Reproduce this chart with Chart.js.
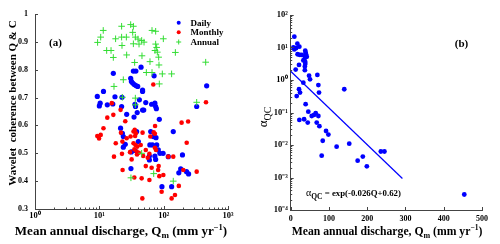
<!DOCTYPE html>
<html>
<head>
<meta charset="utf-8">
<script src="https://cdn.jsdelivr.net/npm/chart.js@4.4.1/dist/chart.umd.min.js"></script>
<style>
html,body{margin:0;padding:0;background:#fff;}
#wrap{position:relative;width:500px;height:244px;overflow:hidden;}
canvas{position:absolute;top:0;}
</style>
</head>
<body>
<div id="wrap">
<canvas id="ca" width="250" height="244" style="left:0"></canvas>
<canvas id="cb" width="250" height="244" style="left:250px"></canvas>
</div>
<script>
// ---------- Panel (a): wavelet coherence vs mean annual discharge ----------
const dailyQ = [9.3,10.3,10.0,11.6,13.3,16.2,16.5,17.5,22.5,22.2,26.6,35.8,36.5,41.9,47,52.7,47,49,38.8,34.6,65,73,75,77,85.6,21.4,22.8,23.6,23.6,25.3,38,40.4,35.8,31.4,62.9,69,76,61,67,78,82.5,87.5,98,73,75,60,60,118,141,196,172,227,244,31,94,133,184,326,466,44.5,33.8,37,30.7,31.5,33,35,37,39.5,47,71];
const dailyCoh = [.704,.680,.670,.722,.674,.677,.787,.703,.701,.668,.640,.676,.668,.692,.722,.682,.655,.655,.646,.630,.676,.680,.668,.660,.622,.590,.572,.560,.522,.532,.578,.542,.510,.505,.578,.560,.556,.530,.530,.530,.512,.500,.500,.490,.478,.490,.476,.488,.578,.494,.430,.434,.426,.445,.380,.380,.444,.668,.742,.809,.795,.795,.769,.758,.752,.747,.743,.740,.727,.778];
const monthlyQ = [9.3,9.9,10.5,11.6,13.3,15.6,16.5,21.4,18,16.9,23,21.7,22.8,22.5,25.3,26.6,30.6,34,35.5,37,36,34,36.5,39,41,38,35,38.5,31.8,35,45.5,46.6,47,52.7,48,52.7,60,65,73.5,70,73,73,76,83.6,82,85.6,98.8,93,118,141,172,133,150,190,240,228,202,326,455,69,56.6,44,62,30,60];
const monthlyCoh = [.562,.553,.566,.590,.628,.680,.638,.656,.536,.488,.440,.574,.542,.498,.615,.554,.560,.578,.584,.572,.562,.536,.530,.524,.502,.506,.514,.496,.478,.413,.410,.338,.574,.512,.490,.454,.404,.448,.598,.575,.570,.520,.512,.454,.440,.418,.422,.362,.488,.488,.383,.338,.350,.610,.614,.538,.440,.434,.683,.747,.484,.530,.560,.504,.498];
const annualQ = [11.5,10.5,9.4,13.0,15.2,16.5,17.9,22.2,22.2,26.3,22.5,26.6,30.7,33.8,33,36.3,39.9,33.8,41.4,45.5,49.5,46,35.4,65.9,75.1,98.8,75.1,77.8,73.3,79.7,83.6,61.3,84.6,53.8,65.9,95.3,133,152,85.6,23.6,16.9,450,326,22.8,36.3,36.3,45.5,31,70,141];
const annualCoh = [.941,.917,.898,.869,.869,.844,.911,.956,.917,.917,.887,.853,.962,.956,.934,.917,.910,.893,.892,.905,.899,.850,.826,.941,.938,.911,.892,.880,.869,.863,.845,.829,.817,.790,.790,.785,.785,.862,.749,.764,.740,.827,.683,.701,.698,.674,.500,.412,.427,.400];
const seriesNamesA = ['Daily','Monthly','Annual'];
const cohTicks = [0.3,0.4,0.5,0.6,0.7,0.8,0.9,1];
const cohTickLabels = ['0.3','0.4','0.5','0.6','0.7','0.8','0.9','1'];
const qLogTicks = [1,10,100,1000];
const qLogTickLabels = ['10\u2070','10\u00B9','10\u00B2','10\u00B3'];

// ---------- Panel (b): alpha_QC vs mean annual discharge ----------
const alphaQ = [9.5,17.4,7,9.5,14,22.6,18,24,29,38,39,40,38,36,38,38,37,37,42,33,21.7,13,48,50.5,69.7,72.3,74,33,21.7,24.4,15.7,140,39,22.6,35,46,44.5,55,61,65.4,68,72.3,75,92.4,98.5,83.7,81,120,153,175,188.5,199,235.6,245,453.7];
const alphaQC = [21.5,13.1,10,8.7,9.5,10.6,6.2,5.9,5.9,8.0,6.9,6.2,5.2,4.4,3.6,3.1,2.6,2.0,5.2,4.0,2.9,2.1,1.36,1.05,1.43,0.70,0.41,0.83,0.52,0.41,0.32,0.52,0.18,0.059,0.062,0.106,0.049,0.078,0.084,0.095,0.049,0.078,0.038,0.027,0.021,0.0135,0.0047,0.0089,0.011,0.0033,0.0044,0.0022,0.0063,0.0063,0.0003];
const fitQ = [0, 292];
const fitAlpha = [1.86, 0.00093];
const qTicksB = [0,100,200,300,400,500];
const alphaTicks = [1e-4,1e-3,1e-2,1e-1,1,10,100];
const alphaTickLabels = ['10\u207B\u2074','10\u207B\u00B3','10\u207B\u00B2','10\u207B\u00B9','10\u2070','10\u00B9','10\u00B2'];

const SERIF = '"Liberation Serif","Times New Roman",serif';
const AXIS = '#444';

function pts(xs, ys){ return xs.map((x,i)=>({x:x, y:ys[i]})); }

function drawRich(ctx, segs, x, y, rot, align){
  ctx.save();
  ctx.translate(x, y);
  ctx.rotate(rot || 0);
  ctx.fillStyle = '#000';
  ctx.textBaseline = 'alphabetic';
  let total = 0;
  const ws = segs.map(s => { ctx.font = (s.w||'bold') + ' ' + s.s + 'px ' + SERIF; const w = ctx.measureText(s.t).width; total += w; return w; });
  const base = segs[0].s * 0.35;
  let cx = align === 'left' ? 0 : -total/2;
  segs.forEach((s,i) => {
    ctx.font = (s.w||'bold') + ' ' + s.s + 'px ' + SERIF;
    ctx.fillText(s.t, cx, base + (s.dy||0));
    cx += ws[i];
  });
  ctx.restore();
}

function logMinor(min, max){
  const out = [];
  for (let e = Math.floor(Math.log10(min)); e < Math.ceil(Math.log10(max)); e++){
    for (let k = 2; k <= 9; k++){ const v = k*Math.pow(10,e); if (v > min && v < max) out.push(v); }
  }
  return out;
}

const inTicks = {
  id: 'inTicks',
  afterDatasetsDraw(chart, args, opts){
    const ctx = chart.ctx, a = chart.chartArea;
    ctx.save();
    ctx.strokeStyle = AXIS; ctx.lineWidth = 1;
    const xs = chart.scales.x, ys = chart.scales.y;
    ctx.beginPath();
    (opts.xMajor||[]).forEach(v => { const p = Math.round(xs.getPixelForValue(v))+0.5; ctx.moveTo(p, a.bottom); ctx.lineTo(p, a.bottom-3); });
    (opts.xMinor||[]).forEach(v => { const p = Math.round(xs.getPixelForValue(v))+0.5; ctx.moveTo(p, a.bottom); ctx.lineTo(p, a.bottom-1.5); });
    (opts.yMajor||[]).forEach(v => { const p = Math.round(ys.getPixelForValue(v))+0.5; ctx.moveTo(a.left, p); ctx.lineTo(a.left+3, p); });
    (opts.yMinor||[]).forEach(v => { const p = Math.round(ys.getPixelForValue(v))+0.5; ctx.moveTo(a.left, p); ctx.lineTo(a.left+1.5, p); });
    ctx.stroke();
    ctx.restore();
  }
};

const textLayer = {
  id: 'textLayer',
  afterDraw(chart, args, opts){ if (opts.draw) opts.draw(chart, chart.ctx); }
};

// ---------- Chart (a) ----------
new Chart(document.getElementById('ca'), {
  type: 'scatter',
  data: { datasets: [
    { label: seriesNamesA[0], data: pts(dailyQ, dailyCoh), pointStyle:'circle', pointRadius:2.6, backgroundColor:'#0000ff', borderColor:'#0000ff', borderWidth:0, order:3 },
    { label: seriesNamesA[1], data: pts(monthlyQ, monthlyCoh), pointStyle:'circle', pointRadius:2.3, backgroundColor:'#ff0000', borderColor:'#ff0000', borderWidth:0, order:2 },
    { label: seriesNamesA[2], data: pts(annualQ, annualCoh), pointStyle:'cross', pointRadius:3.3, backgroundColor:'#33dd33', borderColor:'#33dd33', borderWidth:1, order:1 }
  ]},
  plugins: [inTicks, textLayer],
  options: {
    responsive:false, animation:false, devicePixelRatio:1,
    layout:{ padding:{ left:0, right:22, top:14, bottom:0 } },
    plugins:{
      legend:{ display:false }, tooltip:{ enabled:false },
      inTicks:{ xMajor: qLogTicks, xMinor: logMinor(1,1000), yMajor: cohTicks },
      textLayer:{ draw(chart, ctx){
        drawRich(ctx, [{t:'Mean annual discharge, Q', s:13},{t:'m', s:9, dy:3},{t:' (mm yr', s:13},{t:'\u22121', s:8.5, dy:-5},{t:')', s:13}], 121, 230, 0);
        drawRich(ctx, [{t:'Wavelet  coherence between Q & C', s:11}], 12.5, 103, -Math.PI/2);
        drawRich(ctx, [{t:'(a)', s:11}], 55.5, 42, 0);
        // legend
        const ds = chart.data.datasets;
        const rows = [22.7, 32.3, 42];
        ds.forEach((d,i) => {
          const mx = 178.7, my = rows[i];
          ctx.save();
          ctx.fillStyle = d.backgroundColor; ctx.strokeStyle = d.borderColor; ctx.lineWidth = 1;
          if (d.pointStyle === 'cross'){ ctx.beginPath(); ctx.moveTo(mx-2.5,my); ctx.lineTo(mx+2.5,my); ctx.moveTo(mx,my-2.5); ctx.lineTo(mx,my+2.5); ctx.stroke(); }
          else { ctx.beginPath(); ctx.arc(mx,my,2,0,Math.PI*2); ctx.fill(); }
          ctx.restore();
          drawRich(ctx, [{t:d.label, s:9}], 190.5, my, 0, 'left');
        });
      }}
    },
    scales:{
      x:{ type:'logarithmic', min:1, max:1000,
          grid:{ display:false, drawTicks:false }, border:{ display:true, color:AXIS, width:1 },
          ticks:{ color:'#000', font:{ family:SERIF, size:8.5, weight:'bold' }, padding:2, autoSkip:false, maxRotation:0,
                  callback:(v,i)=> qLogTickLabels[i] },
          afterBuildTicks: s => { s.ticks = qLogTicks.map(v=>({value:v})); },
          afterFit: s => { s.height = 35; } },
      y:{ type:'linear', min:0.3, max:1,
          grid:{ display:false, drawTicks:false }, border:{ display:true, color:AXIS, width:1 },
          ticks:{ color:'#000', font:{ family:SERIF, size:8, weight:'bold' }, padding:7, autoSkip:false,
                  callback:(v,i)=> cohTickLabels[i] },
          afterBuildTicks: s => { s.ticks = cohTicks.map(v=>({value:v})); },
          afterFit: s => { s.width = 35; } }
    }
  }
});

// ---------- Chart (b) ----------
new Chart(document.getElementById('cb'), {
  type: 'scatter',
  data: { datasets: [
    { label:'alpha_QC', data: pts(alphaQ, alphaQC), pointStyle:'circle', pointRadius:2.4, backgroundColor:'#0000ff', borderColor:'#0000ff', borderWidth:0, order:2 },
    { label:'fit', type:'line', data: pts(fitQ, fitAlpha), borderColor:'#0000ff', borderWidth:1.2, pointRadius:0, fill:false, tension:0, order:1 }
  ]},
  plugins: [inTicks, textLayer],
  options: {
    responsive:false, animation:false, devicePixelRatio:1,
    layout:{ padding:{ left:0, right:18, top:15, bottom:0 } },
    plugins:{
      legend:{ display:false }, tooltip:{ enabled:false },
      inTicks:{ xMajor: qTicksB, yMajor: alphaTicks, yMinor: logMinor(1e-4,100) },
      textLayer:{ draw(chart, ctx){
        drawRich(ctx, [{t:'Mean annual discharge, Q', s:11.7},{t:'m', s:8, dy:3},{t:' (mm yr', s:11.7},{t:'\u22121', s:7.5, dy:-4.5},{t:')', s:11.7}], 137, 230.5, 0);
        drawRich(ctx, [{t:'\u03B1', s:13, w:'normal'},{t:'QC', s:10, w:'normal', dy:4}], 12, 117, -Math.PI/2);
        drawRich(ctx, [{t:'(b)', s:11}], 211.5, 43, 0);
        drawRich(ctx, [{t:'\u03B1', s:10, w:'normal'},{t:'QC', s:7.5, w:'bold', dy:3},{t:' = exp(-0.026Q+0.62)', s:8.8}], 56, 192, 0, 'left');
      }}
    },
    scales:{
      x:{ type:'linear', min:0, max:500,
          grid:{ display:false, drawTicks:false }, border:{ display:true, color:AXIS, width:1 },
          ticks:{ color:'#000', font:{ family:SERIF, size:8, weight:'bold' }, padding:4, autoSkip:false, maxRotation:0,
                  callback:(v)=> String(v) },
          afterBuildTicks: s => { s.ticks = qTicksB.map(v=>({value:v})); },
          afterFit: s => { s.height = 34; } },
      y:{ type:'logarithmic', min:1e-4, max:100,
          grid:{ display:false, drawTicks:false }, border:{ display:true, color:AXIS, width:1 },
          ticks:{ color:'#000', font:{ family:SERIF, size:8.5, weight:'bold' }, padding:3, autoSkip:false,
                  callback:(v,i)=> alphaTickLabels[i] },
          afterBuildTicks: s => { s.ticks = alphaTicks.map(v=>({value:v})); },
          afterFit: s => { s.width = 40.7; } }
    }
  }
});
</script>
</body>
</html>
